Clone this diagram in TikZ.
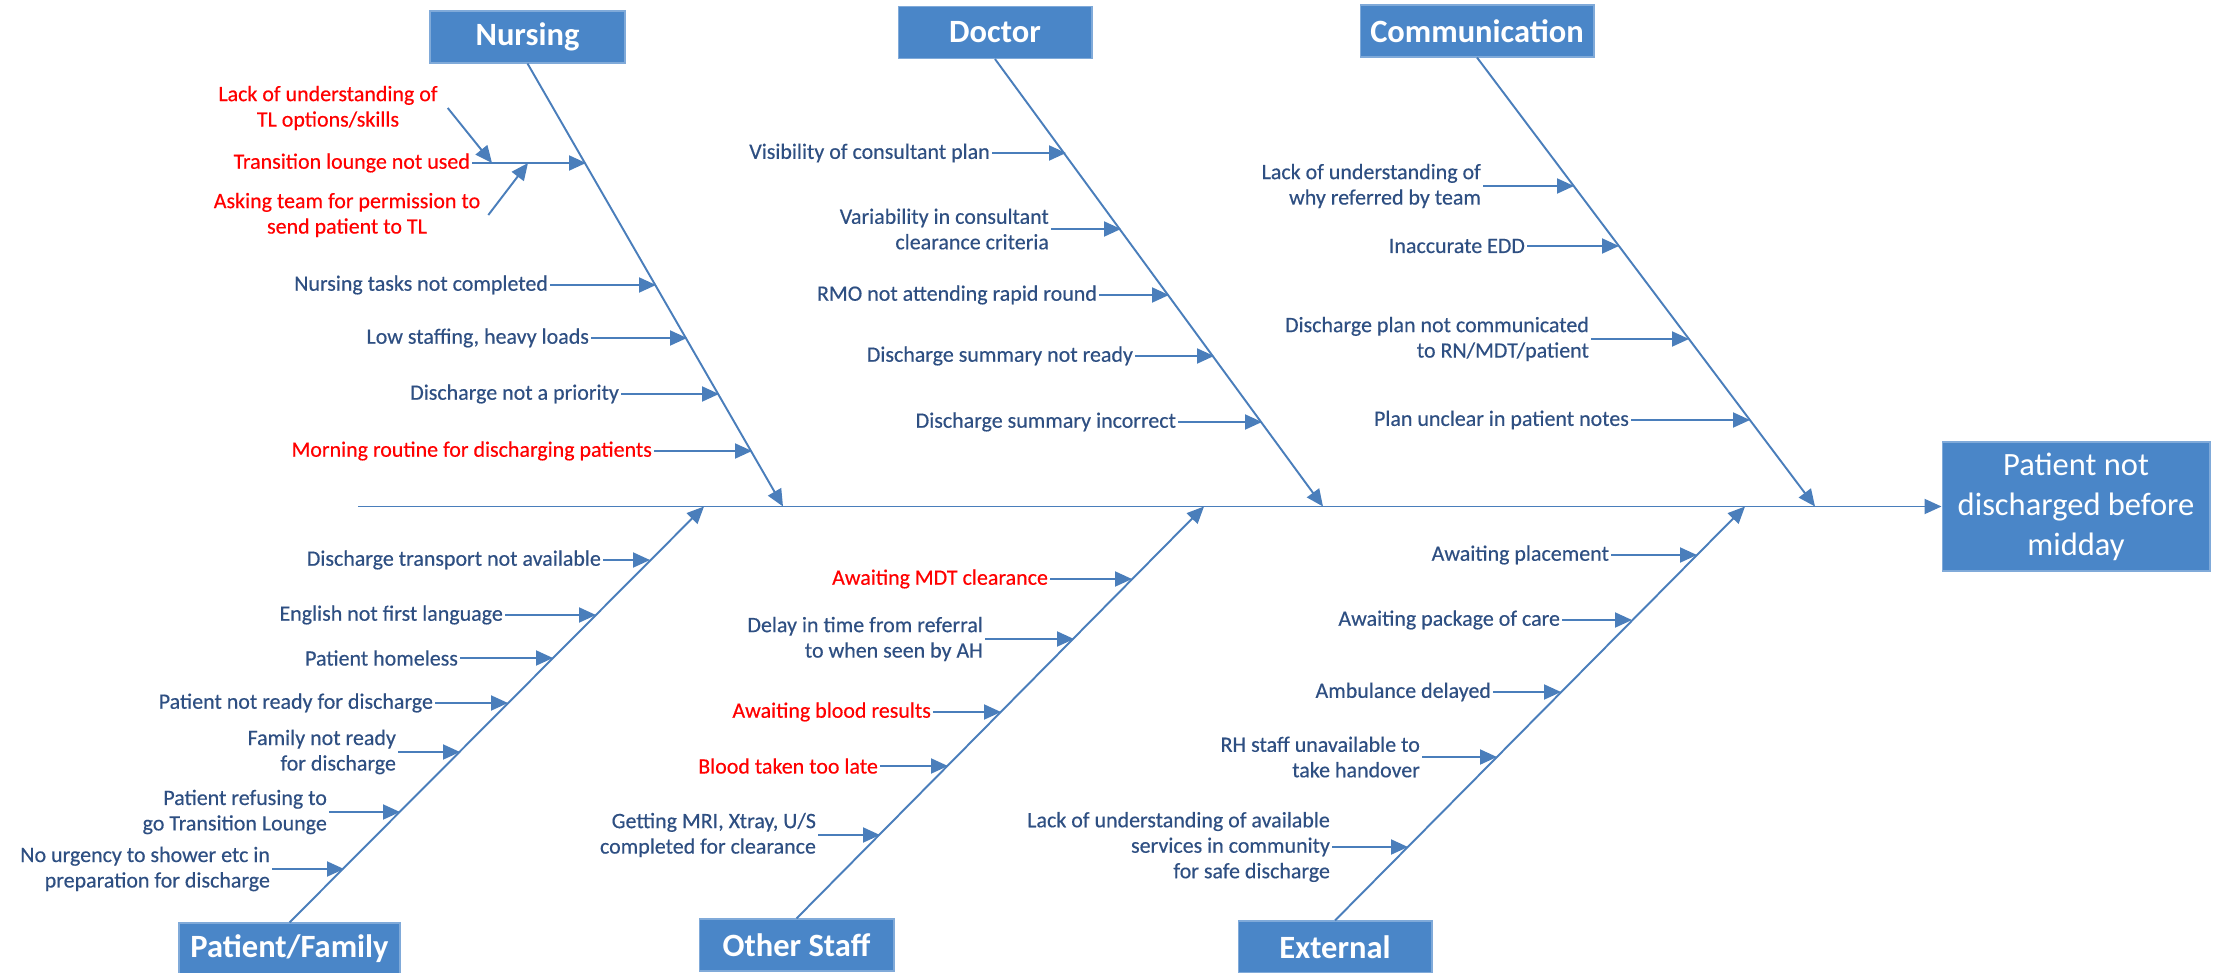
\documentclass[tikz,border=0pt]{standalone}
\usepackage{fontspec}
\setmainfont{Carlito}
\newfontfamily\causefont[FakeBold=0.4]{Carlito}
\usepackage{xcolor}
\usepackage{tikz}
\usetikzlibrary{arrows.meta}
\definecolor{boxblue}{HTML}{4A86C8}
\definecolor{boneblue}{HTML}{4A7EBB}
\definecolor{causeblue}{HTML}{2E4F82}
\definecolor{causered}{HTML}{FF0000}
\tikzset{category/.style={draw=boxblue!70!white,line width=0.6pt,fill=boxblue,
        text=white,font=\fontsize{18.5}{22}\selectfont\bfseries,minimum height=1.04cm},
    problem/.style={draw=boxblue!70!white,line width=0.6pt,fill=boxblue,text=white,
        font=\fontsize{18.5}{22.7}\selectfont,align=center,
        minimum width=5.36cm,minimum height=2.58cm},
    cause/.style={text=causeblue,font=\causefont\fontsize{12.5}{14.5}\selectfont,
        align=right,inner sep=1pt,anchor=east},
    redcause/.style={cause,text=causered},
    bone/.style={draw=boneblue,line width=1.1pt},
    twig/.style={bone,-{Triangle[length=0.34cm,width=0.3cm]}}}

\begin{document}
\begin{tikzpicture}[x=0.02cm,y=-0.02cm]
    \useasboundingbox (0,0) rectangle (2220,973);
    \node[category,minimum width=3.9cm] (nurs) at (527.5,37) {Nursing};
    \node[category,minimum width=3.88cm] (doc) at (995,32.5) {Doctor};
    \node[category,minimum width=4.68cm] (comm) at (1477,31) {Communication};
    \node[category,minimum width=4.42cm] (pf) at (289.5,949) {Patient/Family};
    \node[category,minimum width=3.9cm] (other) at (796.5,945) {Other Staff};
    \node[category,minimum width=3.88cm] (ext) at (1335,947) {External};
    \node[problem] (prob) at (2076,506.5) {Patient not\\discharged before\\midday};

    \coordinate (tail) at (358,506.5);
    \coordinate (nursT) at (783,506.5);
    \coordinate (docT) at (1323,506.5);
    \coordinate (commT) at (1815,506.5);
    \coordinate (pfT) at (704,506.5);
    \coordinate (otherT) at (1204,506.5);
    \coordinate (extT) at (1745,506.5);
    \draw[twig] (tail) -- (prob.west);
    \draw[twig] (nurs.south) -- (nursT);
    \draw[twig] (doc.south) -- (docT);
    \draw[twig] (comm.south) -- (commT);
    \draw[twig] (pf.north) -- (pfT);
    \draw[twig] (other.north) -- (otherT);
    \draw[twig] (ext.north) -- (extT);

    \coordinate (n1) at (492,163);
    \coordinate (n2) at (586,163);
    \coordinate (n3) at (528,163);
    \coordinate (n4) at (656,285);
    \coordinate (n5) at (687,338);
    \coordinate (n6) at (719,394);
    \coordinate (n7) at (752,451);
    \node[redcause,align=center,anchor=center] (nl1) at (328,108) {Lack of understanding of\\TL options/skills};
    \node[redcause] (nl2) at (472,163) {Transition lounge not used};
    \node[redcause,align=center,anchor=center] (nl3) at (347,215) {Asking team for permission to\\send patient to TL};
    \node[cause] (nl4) at (550,285) {Nursing tasks not completed};
    \node[cause] (nl5) at (591,338) {Low staffing, heavy loads};
    \node[cause] (nl6) at (621,394) {Discharge not a priority};
    \node[redcause] (nl7) at (654,451) {Morning routine for discharging patients};
    \draw[twig] ([xshift=0.16cm]nl1.east) -- (n1);
    \draw[twig] (nl2) -- (n2);
    \draw[twig] ([xshift=0.12cm]nl3.east) -- (n3);
    \draw[twig] (nl4) -- (n4);
    \draw[twig] (nl5) -- (n5);
    \draw[twig] (nl6) -- (n6);
    \draw[twig] (nl7) -- (n7);

    \coordinate (d1) at (1066,153);
    \coordinate (d2) at (1121,229);
    \coordinate (d3) at (1169,295);
    \coordinate (d4) at (1214,356);
    \coordinate (d5) at (1262,422);
    \node[cause] (dl1) at (992,153) {Visibility of consultant plan};
    \node[cause] (dl2) at (1051,229) {Variability in consultant\\clearance criteria};
    \node[cause] (dl3) at (1099,295) {RMO not attending rapid round};
    \node[cause] (dl4) at (1135,356) {Discharge summary not ready};
    \node[cause] (dl5) at (1178,422) {Discharge summary incorrect};
    \draw[twig] (dl1) -- (d1);
    \draw[twig] (dl2) -- (d2);
    \draw[twig] (dl3) -- (d3);
    \draw[twig] (dl4) -- (d4);
    \draw[twig] (dl5) -- (d5);

    \coordinate (c1) at (1574,186);
    \coordinate (c2) at (1619,246);
    \coordinate (c3) at (1689,339);
    \coordinate (c4) at (1750,420);
    \node[cause] (cl1) at (1483,186) {Lack of understanding of\\why referred by team};
    \node[cause] (cl2) at (1527,246) {Inaccurate EDD};
    \node[cause] (cl3) at (1591,339) {Discharge plan not communicated\\to RN/MDT/patient};
    \node[cause] (cl4) at (1631,420) {Plan unclear in patient notes};
    \draw[twig] (cl1) -- (c1);
    \draw[twig] (cl2) -- (c2);
    \draw[twig] (cl3) -- (c3);
    \draw[twig] (cl4) -- (c4);

    \coordinate (p1) at (650,560);
    \coordinate (p2) at (596,615);
    \coordinate (p3) at (553,658);
    \coordinate (p4) at (508,703);
    \coordinate (p5) at (460,752);
    \coordinate (p6) at (400,812);
    \coordinate (p7) at (344,869);
    \node[cause] (pl1) at (603,560) {Discharge transport not available};
    \node[cause] (pl2) at (505,615) {English not first language};
    \node[cause] (pl3) at (460,658) {Patient homeless};
    \node[cause] (pl4) at (435,703) {Patient not ready for discharge};
    \node[cause] (pl5) at (398,752) {Family not ready\\for discharge};
    \node[cause] (pl6) at (329,812) {Patient refusing to\\go Transition Lounge};
    \node[cause] (pl7) at (272,869) {No urgency to shower etc in\\preparation for discharge};
    \draw[twig] (pl1) -- (p1);
    \draw[twig] (pl2) -- (p2);
    \draw[twig] (pl3) -- (p3);
    \draw[twig] (pl4) -- (p4);
    \draw[twig] (pl5) -- (p5);
    \draw[twig] (pl6) -- (p6);
    \draw[twig] (pl7) -- (p7);

    \coordinate (o1) at (1132,579);
    \coordinate (o2) at (1074,639);
    \coordinate (o3) at (1001,712);
    \coordinate (o4) at (948,766);
    \coordinate (o5) at (880,835);
    \node[redcause] (ol1) at (1050,579) {Awaiting MDT clearance};
    \node[cause] (ol2) at (985,639) {Delay in time from referral\\to when seen by AH};
    \node[redcause] (ol3) at (933,712) {Awaiting blood results};
    \node[redcause] (ol4) at (880,766) {Blood taken too late};
    \node[cause] (ol5) at (818,835) {Getting MRI, Xtray, U/S\\completed for clearance};
    \draw[twig] (ol1) -- (o1);
    \draw[twig] (ol2) -- (o2);
    \draw[twig] (ol3) -- (o3);
    \draw[twig] (ol4) -- (o4);
    \draw[twig] (ol5) -- (o5);

    \coordinate (e1) at (1697,555);
    \coordinate (e2) at (1632,620);
    \coordinate (e3) at (1561,692);
    \coordinate (e4) at (1497,757);
    \coordinate (e5) at (1408,847);
    \node[cause] (el1) at (1611,555) {Awaiting placement};
    \node[cause] (el2) at (1562,620) {Awaiting package of care};
    \node[cause] (el3) at (1493,692) {Ambulance delayed};
    \node[cause] (el4) at (1422,757) {RH staff unavailable to\\take handover};
    \node[cause] (el5) at (1332,847) {Lack of understanding of available\\services in community\\for safe discharge};
    \draw[twig] (el1) -- (e1);
    \draw[twig] (el2) -- (e2);
    \draw[twig] (el3) -- (e3);
    \draw[twig] (el4) -- (e4);
    \draw[twig] (el5) -- (e5);
\end{tikzpicture}
\end{document}
